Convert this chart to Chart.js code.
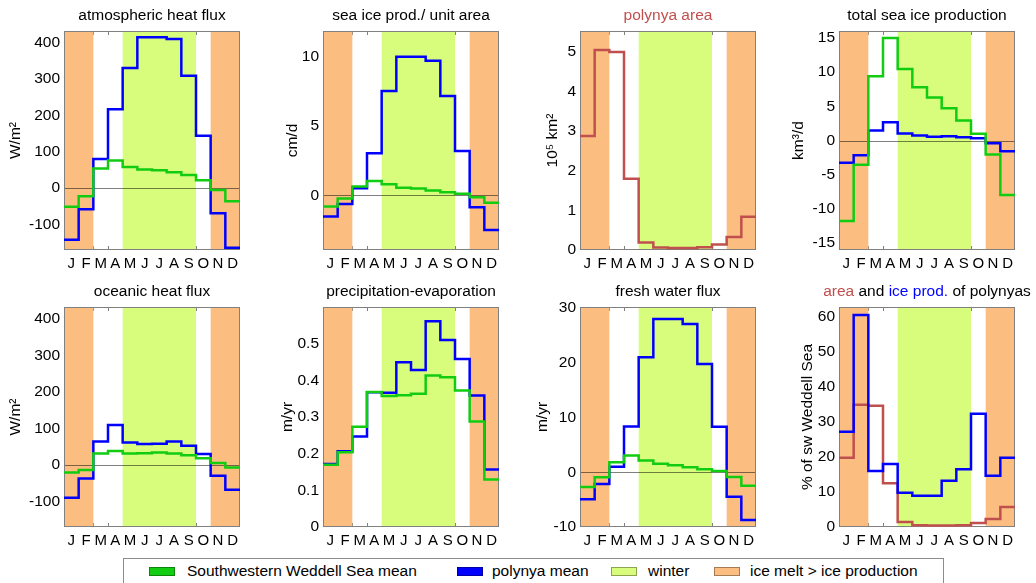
<!DOCTYPE html>
<html>
<head>
<meta charset="utf-8">
<title>Southwestern Weddell Sea polynyas – seasonal cycle</title>
<script src="https://cdn.jsdelivr.net/npm/chart.js@4.4.1/dist/chart.umd.min.js"></script>
<style>
  html, body { margin: 0; padding: 0; background: #fff; }
  body { position: relative; width: 1036px; height: 583px; overflow: hidden;
         font-family: "Liberation Sans", Arial, Helvetica, sans-serif; }
  canvas { position: absolute; }
  #legend { position: absolute; left: 123px; top: 558px; width: 821px; height: 40px;
            border: 1px solid #8c8c8c; box-sizing: border-box; }
  #legend .sw { position: absolute; top: 8px; width: 26px; height: 9px;
                border: 1px solid rgba(0,0,0,0.35); box-sizing: border-box; }
  #legend .lt { position: absolute; top: 3px; font-size: 15.5px; line-height: 18px; color: #000;
                white-space: nowrap; }
</style>
</head>
<body>
<canvas id="c1"></canvas><canvas id="c2"></canvas><canvas id="c3"></canvas><canvas id="c4"></canvas>
<canvas id="c5"></canvas><canvas id="c6"></canvas><canvas id="c7"></canvas><canvas id="c8"></canvas>
<div id="legend"></div>

<script>
console.log("polynya seasonal panels");

/* ----------------------------------------------------------
   DATA (monthly means, Jan..Dec)
---------------------------------------------------------- */
const months = ["J", "F", "M", "A", "M", "J", "J", "A", "S", "O", "N", "D"];

// month spans (start, end) on the 0..12 axis
const meltSpans   = [[0, 2], [10, 12]];
const winterSpans = [[4, 9]];

// atmospheric heat flux, W/m2
const atmSW   = [-51, -22, 54, 76, 58, 51, 49, 44, 36, 22, -5, -36];
const atmPoly = [-142, -58, 80, 217, 330, 415, 415, 410, 309, 144, -69, -164];

// sea ice production per unit area, cm/d
const iceSW   = [-0.82, -0.24, 0.63, 1.03, 0.79, 0.55, 0.48, 0.34, 0.22, 0.10, -0.14, -0.55];
const icePoly = [-1.54, -0.63, 0.50, 3.03, 7.52, 10.0, 10.0, 9.71, 7.16, 3.20, -0.87, -2.50];

// polynya area, 10^5 km2
const polyArea = [2.88, 5.05, 5.00, 1.80, 0.19, 0.06, 0.05, 0.05, 0.07, 0.14, 0.33, 0.84];

// total sea ice production, km3/d
const totSW   = [-11.76, -3.54, 9.37, 14.97, 10.45, 7.77, 6.27, 4.71, 2.92, 0.98, -2.04, -7.97];
const totPoly = [-3.25, -2.14, 1.46, 2.67, 1.02, 0.73, 0.53, 0.63, 0.49, 0.34, -0.39, -1.56];

// oceanic heat flux, W/m2
const ocnSW   = [-21, -14, 31, 38, 31, 32, 34, 31, 26, 18, 5, -7];
const ocnPoly = [-90, -37, 64, 109, 61, 57, 58, 64, 52, 30, -30, -68];

// precipitation - evaporation, m/yr
const peSW   = [0.170, 0.204, 0.274, 0.369, 0.358, 0.360, 0.364, 0.414, 0.409, 0.373, 0.288, 0.130];
const pePoly = [0.172, 0.207, 0.247, 0.368, 0.367, 0.450, 0.429, 0.562, 0.511, 0.459, 0.359, 0.157];

// fresh water flux, m/yr
const fwSW   = [-2.69, -0.91, 1.83, 3.05, 2.13, 1.58, 1.28, 0.92, 0.55, 0.24, -0.86, -2.45];
const fwPoly = [-4.94, -2.14, 1.03, 8.35, 21.0, 28.0, 28.0, 27.1, 19.8, 8.3, -4.46, -8.73];

// polynya share of the sw Weddell Sea, %
const shareArea = [19.8, 34.9, 34.6, 12.5, 1.44, 0.48, 0.45, 0.45, 0.50, 1.15, 2.3, 5.74];
const shareProd = [27.2, 60.5, 16.0, 18.0, 9.76, 8.9, 8.9, 13.2, 16.5, 32.3, 14.6, 19.8];

// y tick values
const fluxTicks  = [-100, 0, 100, 200, 300, 400];
const iceTicks   = [0, 5, 10];
const areaTicks  = [0, 1, 2, 3, 4, 5];
const totTicks   = [-15, -10, -5, 0, 5, 10, 15];
const peTicks    = [0, 0.1, 0.2, 0.3, 0.4, 0.5];
const fwTicks    = [-10, 0, 10, 20, 30];
const shareTicks = [0, 10, 20, 30, 40, 50, 60];

/* ----------------------------------------------------------
   STYLE
---------------------------------------------------------- */
const GREEN  = "#11cc11";
const BLUE   = "#0000ff";
const RED    = "#c0504d";
const WINTER = "#d8fc7c";
const MELT   = "#fcbe80";
const FONT   = "'Liberation Sans', Arial, sans-serif";

const legendItems = [
  ["Southwestern Weddell Sea mean", GREEN, 25, 63],
  ["polynya mean", BLUE, 333, 368],
  ["winter", WINTER, 487, 524],
  ["ice melt > ice production", MELT, 590, 626]
];

// plot boxes: column left edges / row top edges of the canvases
const colLeft = [0, 259, 516, 775];
const rowTop  = [0, 276];
const PLOT_W = 176, PAD_L = 64, PAD_R = 18, PAD_T = 31, AXIS_H = 26;
const rowPlotH = [219, 220];

const panels = [
  { id: "c1", col: 0, row: 0, title: [["atmospheric heat flux", "#000"]], yLabel: "W/m²", labelPad: 6.7,
    yMin: -170, yMax: 432, ticks: fluxTicks, lines: [[atmSW, GREEN], [atmPoly, BLUE]] },
  { id: "c2", col: 1, row: 0, title: [["sea ice prod./ unit area", "#000"]], yLabel: "cm/d", labelPad: 24.7,
    yMin: -3.95, yMax: 11.85, ticks: iceTicks, lines: [[iceSW, GREEN], [icePoly, BLUE]] },
  { id: "c3", col: 2, row: 0, title: [["polynya area", RED]], yLabel: "10⁵ km²", labelPad: 27.7,
    yMin: 0, yMax: 5.53, ticks: areaTicks, lines: [[polyArea, RED]] },
  { id: "c4", col: 3, row: 0, title: [["total sea ice production", "#000"]], yLabel: "km³/d", labelPad: 14.7,
    yMin: -16, yMax: 16, ticks: totTicks, lines: [[totSW, GREEN], [totPoly, BLUE]] },
  { id: "c5", col: 0, row: 1, title: [["oceanic heat flux", "#000"]], yLabel: "W/m²", labelPad: 6.7,
    yMin: -170, yMax: 432, ticks: fluxTicks, lines: [[ocnSW, GREEN], [ocnPoly, BLUE]] },
  { id: "c6", col: 1, row: 1, title: [["precipitation-evaporation", "#000"]], yLabel: "m/yr", labelPad: 19.7,
    yMin: 0, yMax: 0.601, ticks: peTicks, lines: [[peSW, GREEN], [pePoly, BLUE]] },
  { id: "c7", col: 2, row: 1, title: [["fresh water flux", "#000"]], yLabel: "m/yr", labelPad: 17.7,
    yMin: -10, yMax: 30.2, ticks: fwTicks, lines: [[fwSW, GREEN], [fwPoly, BLUE]] },
  { id: "c8", col: 3, row: 1,
    title: [["area", RED], [" and ", "#000"], ["ice prod.", BLUE], [" of polynyas", "#000"]],
    yLabel: "% of sw Weddell Sea", labelPad: 23.7,
    yMin: 0, yMax: 62.8, ticks: shareTicks, lines: [[shareProd, BLUE], [shareArea, RED]] }
];

// monthly values -> stair points on the 0..12 month axis
const stairs = vals => vals.map((v, i) => ({ x: i, y: v })).concat([{ x: 12, y: vals[vals.length - 1] }]);

/* ----------------------------------------------------------
   PANEL DECORATION: seasons, box, zero line, title
---------------------------------------------------------- */
const panelDecor = {
  id: "panelDecor",
  beforeDatasetsDraw(chart) {
    const { ctx, chartArea: a, scales: { x, y } } = chart;
    ctx.save();

    // month boundary ticks (mostly hidden under the season bands)
    ctx.strokeStyle = "#808080";
    ctx.lineWidth = 1;
    for (let m = 1; m < 12; m++) {
      const px = Math.round(x.getPixelForValue(m)) + 0.5;
      ctx.beginPath();
      ctx.moveTo(px, a.bottom); ctx.lineTo(px, a.bottom - 4);
      ctx.moveTo(px, a.top);    ctx.lineTo(px, a.top + 4);
      ctx.stroke();
    }

    const band = (spans, color) => {
      ctx.fillStyle = color;
      spans.forEach(([s, e]) => {
        const x0 = x.getPixelForValue(s), x1 = x.getPixelForValue(e);
        ctx.fillRect(x0, a.top, x1 - x0, a.bottom - a.top);
      });
    };
    band(meltSpans, MELT);
    band(winterSpans, WINTER);

    if (y.min < 0) {
      const py = Math.round(y.getPixelForValue(0)) + 0.5;
      ctx.strokeStyle = "rgba(0,0,0,0.5)";
      ctx.beginPath();
      ctx.moveTo(a.left, py); ctx.lineTo(a.right, py);
      ctx.stroke();
    }

    ctx.strokeStyle = "#808080";
    ctx.strokeRect(a.left + 0.5, a.top + 0.5, a.width - 1, a.height - 1);
    ctx.restore();
  },
  afterDraw(chart, args, opts) {
    const { ctx, chartArea: a } = chart;
    const parts = opts.parts || [];
    ctx.save();
    ctx.font = "15.5px " + FONT;
    ctx.textBaseline = "alphabetic";
    ctx.textAlign = "left";
    const total = parts.reduce((w, [t]) => w + ctx.measureText(t).width, 0);
    let tx = (a.left + a.right) / 2 - total / 2;
    parts.forEach(([t, c]) => {
      ctx.fillStyle = c;
      ctx.fillText(t, tx, a.top - 11);
      tx += ctx.measureText(t).width;
    });
    ctx.restore();
  }
};

/* ----------------------------------------------------------
   BUILD CHARTS
---------------------------------------------------------- */
function buildPanel(p) {
  const cv = document.getElementById(p.id);
  const plotH = rowPlotH[p.row];
  cv.width = PAD_L + PLOT_W + PAD_R;
  cv.height = PAD_T + plotH + AXIS_H;
  cv.style.left = colLeft[p.col] + "px";
  cv.style.top = rowTop[p.row] + "px";

  return new Chart(cv, {
    type: "line",
    data: {
      datasets: p.lines.map(([vals, color]) => ({
        data: stairs(vals),
        borderColor: color,
        borderWidth: 2.5,
        // each month's value holds from its start to the next month
        stepped: "before",
        pointRadius: 0,
        fill: false
      }))
    },
    options: {
      responsive: false,
      animation: false,
      devicePixelRatio: 1,
      layout: { padding: { top: PAD_T, right: PAD_R, left: 0, bottom: 0 } },
      plugins: {
        legend: { display: false },
        tooltip: { enabled: false },
        panelDecor: { parts: p.title }
      },
      scales: {
        x: {
          type: "linear", min: 0, max: 12,
          grid: { display: false, drawTicks: false },
          border: { display: false },
          afterBuildTicks: s => { s.ticks = months.map((m, i) => ({ value: i + 0.5 })); },
          afterFit: s => { s.height = AXIS_H; },
          ticks: {
            autoSkip: false, maxRotation: 0, padding: 5, color: "#000",
            font: { family: FONT, size: 15 },
            callback: (v, i) => months[i]
          }
        },
        y: {
          type: "linear", min: p.yMin, max: p.yMax,
          grid: { display: false, drawTicks: false },
          border: { display: false },
          afterBuildTicks: s => { s.ticks = p.ticks.map(v => ({ value: v })); },
          afterFit: s => { s.width = PAD_L; },
          ticks: {
            padding: 4, color: "#000",
            font: { family: FONT, size: 15.5 },
            callback: v => String(v)
          },
          title: {
            display: true, text: p.yLabel, color: "#000",
            font: { family: FONT, size: 15.5 },
            padding: { top: p.labelPad, bottom: 0 }
          }
        }
      }
    },
    plugins: [panelDecor]
  });
}

panels.forEach(buildPanel);

/* ----------------------------------------------------------
   LEGEND
---------------------------------------------------------- */
const legendBox = document.getElementById("legend");
legendItems.forEach(([label, color, swX, txX]) => {
  const sw = document.createElement("span");
  sw.className = "sw";
  sw.style.left = swX + "px";
  sw.style.background = color;
  const lt = document.createElement("span");
  lt.className = "lt";
  lt.style.left = txX + "px";
  lt.textContent = label;
  legendBox.appendChild(sw);
  legendBox.appendChild(lt);
});
</script>
</body>
</html>
